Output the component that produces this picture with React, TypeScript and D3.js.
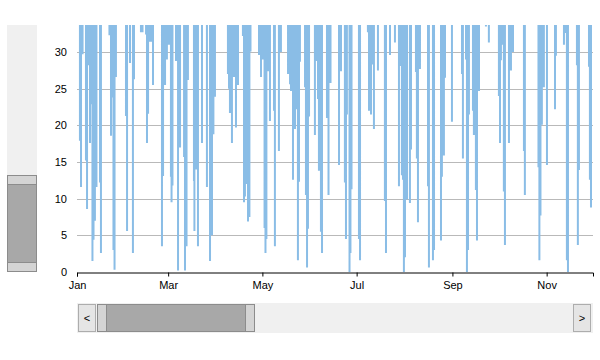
import React, { useEffect, useRef } from "react";
import * as d3 from "d3";

// days after Jan 1 2015 where the series drops into view, and the low it reaches
const dipDays = [
  1.9, 2.6, 3.6, 5.8, 6.5, 7.1, 8.4, 9.4, 10.0, 10.7, 11.6, 12.6, 14.9, 15.5,
  21.0, 22.0, 23.0, 23.6, 24.3, 25.2, 31.7, 32.4, 34.3, 36.2, 36.9, 41.4, 42.4,
  44.7, 45.3, 46.0, 47.2, 47.9, 49.2, 55.0, 55.7, 57.0, 58.2, 59.5, 60.8, 61.2,
  61.8, 64.1, 65.4, 66.7, 69.3, 69.9, 70.9, 71.8, 75.7, 76.0, 77.0, 78.3, 80.9,
  84.1, 86.1, 87.4, 88.3, 89.3, 97.7, 98.4, 99.0, 100.3, 101.6, 102.9, 104.2,
  107.4, 108.1, 108.7, 109.7, 110.7, 111.6, 112.3, 117.8, 119.1, 120.4, 121.4,
  122.0, 122.6, 123.6, 124.3, 124.9, 127.5, 128.1, 130.7, 132.0, 136.6, 137.9,
  138.5, 139.1, 139.8, 141.1, 142.4, 143.0, 143.7, 144.3, 147.6, 148.2, 148.9,
  149.5, 150.2, 154.0, 154.7, 156.0, 156.6, 157.9, 158.6, 161.8, 162.8, 164.1,
  169.6, 170.9, 173.4, 174.1, 174.7, 176.4, 177.0, 177.7, 182.5, 183.2, 188.3,
  189.0, 190.3, 191.6, 192.2, 194.8, 199.3, 200.0, 202.6, 205.8, 208.4, 209.7,
  210.3, 211.0, 211.6, 212.3, 212.9, 213.6, 215.5, 216.2, 219.4, 220.0, 220.7,
  222.0, 227.2, 227.8, 230.4, 231.1, 235.6, 236.2, 237.5, 238.2, 242.7, 249.2,
  249.8, 251.8, 252.4, 253.1, 253.7, 256.3, 256.9, 258.2, 258.9, 260.2, 264.7,
  266.6, 273.1, 273.8, 274.4, 275.1, 276.3, 277.0, 279.6, 280.9, 282.2, 289.3,
  289.9, 298.7, 299.3, 300.0, 300.9, 302.2, 304.2, 309.4, 310.0, 315.2, 316.5,
  317.1, 317.8, 323.6, 324.2, 324.9, 331.4, 332.0, 332.7,
];
const dipLows = [
  17.9, 11.6, 29.7, 15.2, 8.6, 28.2, 17.6, 22.9, 1.5, 4.4, 7.0, 11.6, 12.2, 2.6,
  32.3, 18.6, 23.8, 3.0, 0.3, 26.6, 21.3, 5.6, 28.5, 2.6, 26.3, 32.7, 32.7,
  32.4, 17.6, 21.6, 31.4, 31.4, 25.5, 3.5, 13.1, 25.5, 29.0, 31.0, 13.0, 9.5,
  11.8, 28.8, 0.2, 17.0, 15.7, 0.2, 3.5, 26.2, 12.4, 5.6, 14.0, 3.5, 17.6,
  11.6, 1.5, 5.0, 18.8, 23.9, 27.0, 25.0, 21.7, 17.6, 26.6, 19.7, 25.5,
  32.2, 9.5, 10.3, 12.0, 6.9, 7.5, 30.1, 29.6, 26.6, 29.0, 6.0,
  2.6, 4.5, 27.4, 31.6, 20.6, 22.0, 3.5, 16.5, 30.0, 27.0, 25.6,
  24.7, 32.5, 12.6, 19.5, 22.2, 1.6, 12.3, 28.7, 25.2, 10.5, 0.6,
  5.9, 21.2, 18.7, 28.8, 23.6, 13.8, 5.5, 2.6, 21.0, 10.5, 25.8,
  14.6, 27.4, 12.2, 4.5, 21.5, 0.0, 2.6, 11.3, 4.5, 1.6, 32.7,
  22.0, 21.5, 28.3, 19.5, 27.5, 9.7, 2.6, 29.6, 31.3, 11.7, 28.1,
  13.2, 12.6, 0.0, 2.0, 23.3, 9.9, 9.4, 16.7, 27.3, 15.5, 6.8,
  27.7, 11.7, 0.6, 1.6, 3.0, 4.3, 13.0, 15.9, 26.5, 20.5, 27.0,
  15.5, 29.0, 0.0, 3.0, 21.5, 22.0, 18.7, 11.2, 4.3, 24.7, 33.5,
  31.3, 24.0, 17.6, 28.9, 31.0, 11.0, 3.7, 17.6, 27.5, 30.0, 16.5,
  10.5, 14.3, 1.6, 7.7, 20.1, 25.2, 14.6, 22.2, 29.5, 31.0, 32.6,
  1.6, 0.0, 28.2, 3.7, 13.9, 28.0, 12.6, 8.8,
];
// level the series sits at between dips (above the visible window)
const offTop = 40;
const startDate = new Date(2015, 0, 1);
const endDate = new Date(2015, 11, 1);
const yMax = 33.7;
const yTicks = [0, 5, 10, 15, 20, 25, 30];

const App: React.FC = () => {
  const svgRef = useRef<SVGSVGElement | null>(null);

  useEffect(() => {
    if (!svgRef.current) return;
    const svg = d3.select(svgRef.current);
    svg.selectAll("*").remove();

    const left = 77, right = 593, top = 25, bottom = 272;
    const font = "'Liberation Sans', Arial, sans-serif";

    const x = d3.scaleTime().domain([startDate, endDate]).range([left, right]);
    const y = d3.scaleLinear().domain([0, yMax]).range([bottom, top]);

    const toDate = (d: number) => new Date(startDate.getTime() + d * 864e5);

    svg.append("rect").attr("width", 600).attr("height", 360).attr("fill", "#fff");

    // gridlines
    svg
      .append("g")
      .selectAll("line")
      .data(yTicks.filter((t) => t > 0))
      .enter()
      .append("line")
      .attr("x1", left)
      .attr("x2", right)
      .attr("y1", (d) => Math.round(y(d)) + 0.5)
      .attr("y2", (d) => Math.round(y(d)) + 0.5)
      .attr("stroke", "#b9b9b9");

    // y labels
    svg
      .append("g")
      .selectAll("text")
      .data(yTicks)
      .enter()
      .append("text")
      .attr("x", 67)
      .attr("y", (d) => y(d))
      .attr("dy", "0.35em")
      .attr("text-anchor", "end")
      .attr("font-family", font)
      .attr("font-size", 11)
      .text((d) => d);

    svg
      .append("clipPath")
      .attr("id", "plot-clip")
      .append("rect")
      .attr("x", left)
      .attr("y", top)
      .attr("width", right - left)
      .attr("height", bottom - top);

    const points: [Date, number][] = [];
    dipDays.forEach((d, i) => {
      points.push([toDate(d), offTop], [toDate(d), dipLows[i]], [toDate(d), offTop]);
    });

    const line = d3
      .line<[Date, number]>()
      .x((d) => x(d[0]))
      .y((d) => y(d[1]));

    svg
      .append("path")
      .datum(points)
      .attr("clip-path", "url(#plot-clip)")
      .attr("d", line)
      .attr("fill", "none")
      .attr("stroke", "#8abde6")
      .attr("stroke-width", 2);

    // x axis
    const xAxis = d3
      .axisBottom(x)
      .ticks(d3.timeMonth.every(2))
      .tickFormat(d3.timeFormat("%b") as any)
      .tickSizeOuter(0)
      .tickSize(4)
      .tickPadding(5);
    const gx = svg
      .append("g")
      .attr("transform", `translate(0, ${bottom + 0.5})`)
      .call(xAxis);
    gx.select(".domain").attr("stroke", "#000");
    gx.selectAll("text").attr("font-family", font).attr("font-size", 11).attr("fill", "#000");

    // vertical scrollbar
    svg.append("rect").attr("x", 7).attr("y", 25).attr("width", 30).attr("height", 247).attr("fill", "#f0f0f0");
    svg.append("rect").attr("x", 7.5).attr("y", 175.5).attr("width", 29).attr("height", 96).attr("fill", "#a8a8a8").attr("stroke", "#8c8c8c");
    svg.append("rect").attr("x", 7.5).attr("y", 175.5).attr("width", 29).attr("height", 9).attr("fill", "#d4d4d4").attr("stroke", "#8c8c8c");
    svg.append("rect").attr("x", 7.5).attr("y", 262.5).attr("width", 29).attr("height", 9).attr("fill", "#d4d4d4").attr("stroke", "#8c8c8c");

    // horizontal scrollbar
    svg.append("rect").attr("x", 77).attr("y", 303).attr("width", 516).attr("height", 30).attr("fill", "#f0f0f0");
    svg.append("rect").attr("x", 78.5).attr("y", 304.5).attr("width", 17).attr("height", 27).attr("fill", "#e5e5e5").attr("stroke", "#adadad");
    svg.append("rect").attr("x", 573.5).attr("y", 304.5).attr("width", 17).attr("height", 27).attr("fill", "#e5e5e5").attr("stroke", "#adadad");
    svg.append("rect").attr("x", 97.5).attr("y", 304.5).attr("width", 157).attr("height", 27).attr("fill", "#a8a8a8").attr("stroke", "#8c8c8c");
    svg.append("rect").attr("x", 97.5).attr("y", 304.5).attr("width", 9).attr("height", 27).attr("fill", "#d4d4d4").attr("stroke", "#8c8c8c");
    svg.append("rect").attr("x", 245.5).attr("y", 304.5).attr("width", 9).attr("height", 27).attr("fill", "#d4d4d4").attr("stroke", "#8c8c8c");
    svg.append("text").attr("x", 87).attr("y", 318).attr("dy", "0.35em").attr("text-anchor", "middle")
      .attr("font-family", font).attr("font-size", 11).text("<");
    svg.append("text").attr("x", 582).attr("y", 318).attr("dy", "0.35em").attr("text-anchor", "middle")
      .attr("font-family", font).attr("font-size", 11).text(">");
  }, []);

  return (
    <svg
      ref={svgRef}
      width={600}
      height={360}
      style={{ position: "absolute", left: 0, top: 0 }}
    ></svg>
  );
};

export default App;
